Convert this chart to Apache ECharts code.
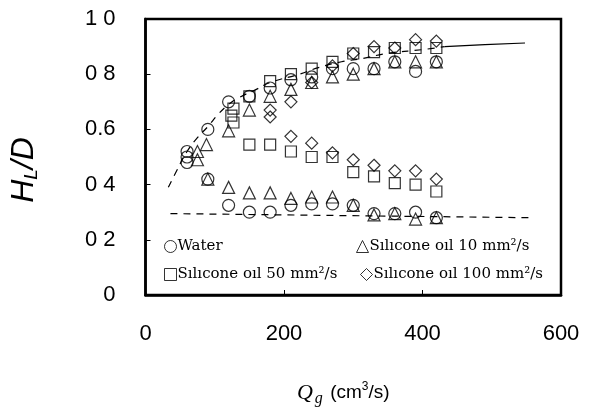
<!DOCTYPE html>
<html>
<head>
<meta charset="utf-8">
<script src="https://cdn.jsdelivr.net/npm/echarts@6/dist/echarts.min.js"></script>
<style>html,body{margin:0;padding:0;background:#fff;}#c{width:591px;height:412px;}</style>
</head>
<body>
<div id="c"></div>
<script>
// ---- data (Q_g in cm3/s, H_L/D) ----
const xTicks = [0, 200, 400, 600];
const yTickLabels = ['0', '0 2', '0 4', '0.6', '0 8', '1 0'];
const seriesNames = ['Water', 'S\u0131l\u0131cone o\u0131l 10 mm\u00b2/s', 'S\u0131l\u0131cone o\u0131l 50 mm\u00b2/s', 'S\u0131l\u0131cone o\u0131l 100 mm\u00b2/s'];

const water = [
  [60,0.52],[60,0.50],[60,0.48],[90,0.60],[120,0.70],[150,0.72],[180,0.75],[210,0.78],[240,0.79],
  [270,0.82],[300,0.82],[330,0.82],[360,0.845],[390,0.81],[420,0.845],
  [90,0.42],[120,0.325],[150,0.30],[180,0.30],[210,0.325],[240,0.33],[270,0.33],[300,0.325],
  [330,0.295],[360,0.295],[390,0.30],[420,0.28]
];
const oil10 = [
  [75,0.52],[75,0.49],[88,0.545],[120,0.595],[150,0.67],[180,0.72],[210,0.745],[240,0.77],
  [270,0.79],[300,0.80],[330,0.82],[360,0.845],[390,0.845],[420,0.845],
  [90,0.42],[120,0.39],[150,0.37],[180,0.37],[210,0.35],[240,0.355],[270,0.355],[300,0.325],
  [330,0.29],[360,0.295],[390,0.275],[420,0.28]
];
const oil50 = [
  [127,0.675],[124,0.65],[127,0.625],[150,0.72],[180,0.775],[210,0.80],[240,0.82],[270,0.845],
  [300,0.875],[330,0.88],[360,0.895],[390,0.895],[420,0.895],
  [150,0.545],[180,0.545],[210,0.52],[240,0.50],[270,0.50],[300,0.445],[330,0.43],[360,0.405],
  [390,0.40],[420,0.375]
];
const oil100 = [
  [180,0.67],[180,0.645],[210,0.70],[240,0.77],[270,0.83],[300,0.875],[330,0.90],[360,0.895],
  [390,0.925],[420,0.92],
  [210,0.575],[240,0.55],[270,0.515],[300,0.49],[330,0.47],[360,0.45],[390,0.45],[420,0.42]
];
// upper correlation curve (dashed part among markers, solid extension)
const upperCurveDashed = [
  [33,0.39],[45,0.45],[60,0.52],[75,0.57],[90,0.61],[105,0.655],[120,0.69],[135,0.715],
  [160,0.745],[180,0.77],[222,0.80],[251,0.825],[283,0.845],[314,0.857],[348,0.875],[403,0.89],[432,0.90]
];
const upperCurveSolid = [[432,0.90],[490,0.907],[548,0.913]];
// lower dashed line
const lowerLine = [[36,0.295],[555,0.28]];

const symbols = ['circle', 'triangle', 'rect', 'diamond'];
const sizes = [12, 12, 11, 12];
const pointSets = [water, oil10, oil50, oil100];

const chart = echarts.init(document.getElementById('c'), null, {renderer: 'canvas'});
const markStyle = {color: 'rgba(0,0,0,0)', borderColor: '#000', borderWidth: 1.2};

const scatterSeries = pointSets.map((d, i) => ({
  name: seriesNames[i], type: 'scatter', data: d, symbol: symbols[i], symbolSize: sizes[i],
  itemStyle: markStyle, z: 3, silent: true
}));

const legendPos = [[164, 239], [356, 239], [164, 267], [360, 267]];
const legends = seriesNames.map((n, i) => ({
  data: [n], left: legendPos[i][0], top: legendPos[i][1], orient: 'horizontal',
  itemWidth: 12, itemHeight: 12, itemGap: 0, padding: 0, selectedMode: false,
  itemStyle: {color: 'rgba(0,0,0,0)', borderColor: '#000', borderWidth: 1},
  textStyle: {fontFamily: 'DejaVu Serif', fontSize: 15, color: '#000', padding: [0, 0, 0, -4]},
  icon: symbols[i]
}));

chart.setOption({
  animation: false,
  backgroundColor: '#fff',
  grid: {left: 143, right: 30, top: 19, bottom: 109, show: true, borderColor: '#000', borderWidth: 2.5},
  legend: legends,
  xAxis: {
    type: 'value', min: 0, max: 600, interval: 200,
    axisLine: {show: true, lineStyle: {color: '#000', width: 2.5}},
    axisTick: {show: true, inside: true, length: 5, lineStyle: {color: '#000', width: 1}},
    splitLine: {show: false},
    axisLabel: {color: '#000', fontSize: 22, fontFamily: 'Liberation Sans', margin: 28,
      formatter: v => xTicks.indexOf(v) >= 0 ? String(v) : ''},
    name: '{q|Q}{g|g} {t|(cm}{sup|3}{t|/s)}',
    nameLocation: 'middle', nameGap: 84,
    nameTextStyle: {
      padding: [0, 20, 0, 0],
      rich: {
        q: {fontFamily: 'Liberation Serif', fontStyle: 'italic', fontSize: 22, color: '#000'},
        g: {fontFamily: 'Liberation Serif', fontStyle: 'italic', fontSize: 16, color: '#000', padding: [12, 4, 0, 2]},
        t: {fontFamily: 'Liberation Sans', fontSize: 19, color: '#000'},
        sup: {fontFamily: 'Liberation Sans', fontSize: 12, color: '#000', padding: [0, 0, 12, 0]}
      }
    }
  },
  yAxis: {
    type: 'value', min: 0, max: 1, interval: 0.2,
    axisLine: {show: true, lineStyle: {color: '#000', width: 2.5}},
    axisTick: {show: true, inside: true, length: 5, lineStyle: {color: '#000', width: 1}},
    splitLine: {show: false},
    axisLabel: {color: '#000', fontSize: 22, fontFamily: 'Liberation Sans', margin: 30,
      formatter: v => yTickLabels[Math.round(v / 0.2)] || ''},
    name: '{h|H}{s|L}{h|/D}',
    nameLocation: 'middle', nameRotate: 90, nameGap: 104,
    nameTextStyle: {
      padding: [0, 26, 0, 0],
      rich: {
        h: {fontFamily: 'Liberation Sans', fontStyle: 'italic', fontSize: 32, color: '#000'},
        s: {fontFamily: 'Liberation Sans', fontStyle: 'italic', fontSize: 19, color: '#000', padding: [16, 0, 0, 0]}
      }
    }
  },
  series: [
    {type: 'line', data: upperCurveDashed, showSymbol: false, smooth: true, silent: true, z: 2,
      lineStyle: {color: '#000', width: 1.2, type: [7, 6]}},
    {type: 'line', data: upperCurveSolid, showSymbol: false, smooth: true, silent: true, z: 2,
      lineStyle: {color: '#000', width: 1.2}},
    {type: 'line', data: lowerLine, showSymbol: false, silent: true, z: 2,
      lineStyle: {color: '#000', width: 1.2, type: [7, 6]}}
  ].concat(scatterSeries)
});
</script>
</body>
</html>
